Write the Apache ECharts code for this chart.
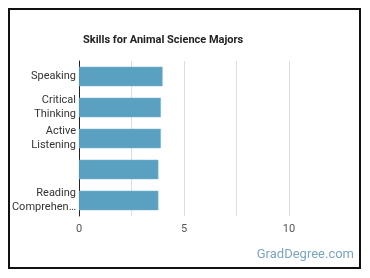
<!DOCTYPE html>
<html lang="en">
<head>
    <meta charset="UTF-8">
    <title>Skills for Animal Science Majors</title>
    <script src="https://cdn.jsdelivr.net/npm/echarts@6/dist/echarts.min.js"></script>
    <style>
        html, body { margin: 0; padding: 0; background: #fff; }
        #frame { position: absolute; left: 8px; top: 8px; width: 349px; height: 257px; border: 2px solid #111; }
        #main { position: absolute; left: 0; top: 0; width: 370px; height: 278px; }
    </style>
</head>
<body>
    <div id="frame"></div>
    <div id="main"></div>
    <script type="text/javascript">
        var skills = ['Speaking', 'Critical\nThinking', 'Active\nListening', '', 'Reading\nComprehen\u2026'];
        var scores = [3.98, 3.9, 3.9, 3.78, 3.78];
        var xTicks = [0, 5, 10];

        var myChart = echarts.init(document.getElementById('main'));
        var option = {
            animation: false,
            title: {
                text: 'Skills for Animal Science Majors',
                left: 78,
                top: 30,
                textStyle: { fontFamily: 'Roboto', fontSize: 11, fontWeight: 'bold', color: '#222' }
            },
            graphic: [{
                type: 'text',
                right: 16,
                top: 248,
                style: { text: 'GradDegree.com', fontFamily: 'Roboto', fontSize: 13, fill: '#7aa6be' }
            }],
            grid: { left: 79, right: 39, top: 61, bottom: 62, containLabel: false },
            xAxis: {
                type: 'value',
                min: 0,
                max: 12,
                interval: 2.5,
                axisLine: { show: false },
                axisTick: { show: false },
                splitLine: { show: true, showMaxLine: false, lineStyle: { color: '#ddd', width: 1 } },
                axisLabel: {
                    fontFamily: 'Roboto', fontSize: 11, color: '#555', margin: 8,
                    showMaxLabel: false,
                    formatter: function (v) { return xTicks.indexOf(v) >= 0 ? String(v) : ''; }
                }
            },
            yAxis: {
                type: 'category',
                inverse: true,
                data: skills,
                axisLine: { show: true, lineStyle: { color: '#222', width: 1 } },
                axisTick: { show: false },
                axisLabel: { fontFamily: 'Roboto', fontSize: 11, color: '#333', margin: 3, lineHeight: 14 }
            },
            series: [{
                type: 'bar',
                data: scores,
                barCategoryGap: '37%',
                itemStyle: { color: '#5aa0c0', borderColor: '#7db6cf', borderWidth: 0.5 }
            }]
        };
        myChart.setOption(option);
    </script>
</body>
</html>
